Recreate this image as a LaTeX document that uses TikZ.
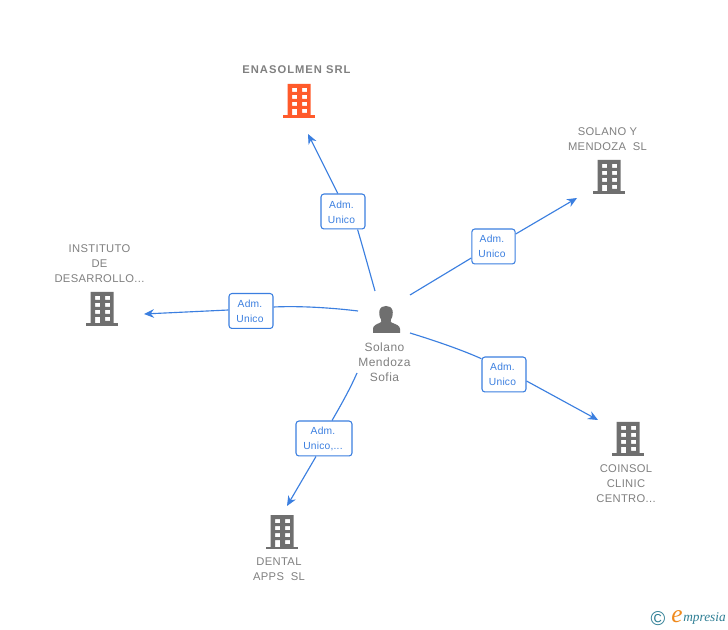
\documentclass[tikz,border=0pt]{standalone}
\usepackage{fontspec}
\setmainfont{Liberation Sans}
\newfontfamily\logofont{Liberation Serif}
\usetikzlibrary{arrows.meta}
\definecolor{linkblue}{HTML}{3B7FE0}
\definecolor{greytxt}{HTML}{808080}
\definecolor{icongrey}{HTML}{6F6F6F}
\definecolor{firm}{HTML}{FF5A2B}
\definecolor{teal}{HTML}{2F7F95}
\definecolor{logoor}{HTML}{F08A1D}
\tikzset{
  link/.style={linkblue,line width=0.85pt},
  arrowed/.style={link,-{Stealth[length=7.5pt,width=6.5pt]}},
  rolebox/.style={draw=linkblue,line width=0.8pt,rounded corners=2.2pt,fill=white,
    minimum height=26.2pt,inner sep=0pt},
  roletxt/.style={inner sep=0pt,align=center,text=linkblue,
    font=\fontsize{7.7}{11.2}\selectfont\addfontfeatures{LetterSpace=2}},
  nametxt/.style={align=center,text=greytxt,inner sep=0pt,font=\fontsize{8.4}{11.2}\selectfont\addfontfeatures{LetterSpace=3}},
  iconspot/.style={minimum width=24pt,minimum height=26pt,inner sep=0pt},
  pics/bld/.style={code={
    \fill[#1,even odd rule] (-11.5,-17) rectangle (11.5,15)
      (-7,-13) rectangle (-2,-9) (3,-13) rectangle (8,-9)
      (-7,-6) rectangle (-2,-2) (3,-6) rectangle (8,-2)
      (-7,1) rectangle (-2,5) (3,1) rectangle (8,5)
      (-7,8) rectangle (-2,15) (3,8) rectangle (8,12);
    \fill[#1] (-16,14.5) rectangle (16,17);
  }}
}
\begin{document}
\begin{tikzpicture}[x=0.75pt,y=-0.75pt]
\useasboundingbox (0,0) rectangle (728,630);
\fill[white] (0,0) rectangle (728,630);
% icons
\node[iconspot] (ena) at (299,101) {}; \pic at (ena) {bld=firm};
\node[iconspot] (sol) at (609,177) {}; \pic at (sol) {bld=icongrey};
\node[iconspot] (ins) at (102,309) {}; \pic at (ins) {bld=icongrey};
\node[iconspot] (coi) at (628,439) {}; \pic at (coi) {bld=icongrey};
\node[iconspot] (den) at (282,532) {}; \pic at (den) {bld=icongrey};
\node[iconspot] (per) at (386,319) {};
\fill[icongrey] (373,333) -- (373,329) .. controls (373,325.5) and (376,324.5) .. (380.5,322.5)
  .. controls (381.5,322) and (381.5,320.5) .. (381,319.5)
  .. controls (379,316.5) and (379,312) .. (379.5,310.5)
  .. controls (380.5,307) and (383,306) .. (386,306)
  .. controls (389,306) and (391.5,307) .. (392.5,310.5)
  .. controls (393,312) and (393,316.5) .. (391,319.5)
  .. controls (390.5,320.5) and (390.5,322) .. (391.5,322.5)
  .. controls (396,324.5) and (400,325.5) .. (400,329) -- (400,333) -- cycle;
% names
\node[nametxt,font=\fontsize{8.4}{11.2}\selectfont\bfseries\addfontfeatures{LetterSpace=9}] (nena) at (296.5,70) {ENASOLMEN SRL};
\node[nametxt] (nsol) at (607.5,139) {SOLANO Y\\MENDOZA\ \ SL};
\node[nametxt] (nins) at (99.5,263.5) {INSTITUTO\\DE\\DESARROLLO...};
\node[nametxt] (ncoi) at (626,483.5) {COINSOL\\CLINIC\\CENTRO...};
\node[nametxt] (nden) at (279,569) {DENTAL\\APPS\ \ SL};
\node[nametxt,font=\fontsize{9}{11.2}\selectfont\addfontfeatures{LetterSpace=4}] (pername) at (384.5,362) {Solano\\Mendoza\\Sofia};
% connector ends
\coordinate (p1) at (375,291); \coordinate (p2) at (410,295); \coordinate (p3) at (410,333);
\coordinate (p4) at (357,373); \coordinate (p5) at (358,311);
\coordinate (e1) at (308,134); \coordinate (e2) at (577,198); \coordinate (e3) at (598,420);
\coordinate (e4) at (287,506); \coordinate (e5) at (144,314);
% role boxes
\node[rolebox,minimum width=33pt] (b1) at (343,211.5) {};
\node[rolebox,minimum width=32.5pt] (b2) at (493.5,246.5) {};
\node[rolebox,minimum width=33pt] (b3) at (504,374.5) {};
\node[rolebox,minimum width=42pt] (b4) at (324,438.5) {};
\node[rolebox,minimum width=33pt] (b5) at (251,311) {};
\node[roletxt] (t1) at (341.5,212) {Adm.\\Unico};
\node[roletxt] (t2) at (492,246.5) {Adm.\\Unico};
\node[roletxt] (t3) at (502.5,374.5) {Adm.\\Unico};
\node[roletxt] (t4) at (323,438.5) {Adm.\\Unico,...};
\node[roletxt] (t5) at (250,311.5) {Adm.\\Unico};
% connectors
\draw[link] (p1) .. controls (368,266) and (363,248) .. (b1.-51);
\draw[arrowed] (b1.106) -- (e1);
\draw[link] (p2) -- (b2.west |- 0,258);
\draw[arrowed] (b2.east |- 0,234) -- (e2);
\draw[link] (p3) .. controls (436,341) and (462,350) .. (b3.145);
\draw[arrowed] (b3.east |- 0,381) -- (e3);
\draw[link] (p4) .. controls (350,389) and (341,405) .. (b4.north -| 332,0);
\draw[arrowed] (b4.south -| 316,0) -- (e4);
\draw[link] (p5) .. controls (325,307) and (295,306) .. (b5.east |- 0,307);
\draw[arrowed] (b5.west |- 0,310) -- (e5);
% logo
\node[inner sep=0pt,text=teal,font=\fontsize{15}{15}\selectfont] (copy) at (658,619) {\symbol{"00A9}};
\node[inner sep=0pt,text=logoor,font=\logofont\itshape\fontsize{19}{19}\selectfont] (le) at (677,616.5) {e};
\node[inner sep=0pt,text=teal,anchor=west,font=\logofont\itshape\fontsize{10}{10}\selectfont] (lw) at (683,619) {mpresia};
\end{tikzpicture}
\end{document}
